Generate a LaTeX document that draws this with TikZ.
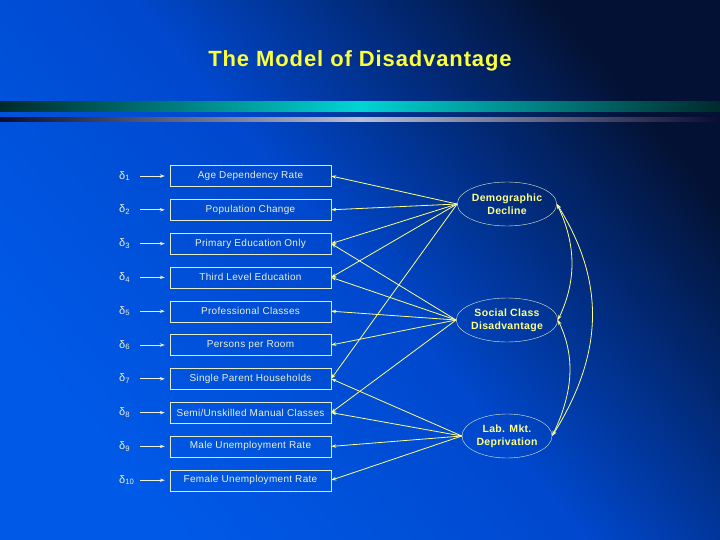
\documentclass[tikz,border=0pt]{standalone}
\usepackage{fontspec}
\setmainfont{Liberation Sans}
\newfontfamily\slidefont[LetterSpace=3]{Liberation Sans}
\newfontfamily\titlefont[LetterSpace=4]{Liberation Sans}
\usetikzlibrary{arrows.meta,shapes.geometric}
\definecolor{bgdark}{RGB}{3,18,52}
\definecolor{bgmid}{RGB}{0,72,205}
\definecolor{bgbright}{RGB}{0,90,232}
\definecolor{tealedge}{RGB}{0,42,44}
\definecolor{tealmid}{RGB}{0,212,212}
\definecolor{greyedge}{RGB}{10,12,50}
\definecolor{greymid}{RGB}{185,190,212}
\definecolor{titleyellow}{RGB}{255,255,60}
\definecolor{pathyellow}{RGB}{255,255,140}
\definecolor{boxline}{RGB}{225,235,200}
\definecolor{labeltext}{RGB}{235,240,215}

\begin{document}
\begin{tikzpicture}[x=1pt,y=-1pt,
  indicator/.style={draw=boxline,thin,minimum width=161pt,minimum height=21pt,
    inner sep=0pt,text=labeltext,font=\slidefont\fontsize{10}{11}\selectfont},
  factor/.style={ellipse,draw=boxline,thin,minimum width=90pt,minimum height=44pt,
    inner sep=0pt,align=center,text=pathyellow,
    font=\slidefont\bfseries\fontsize{10.5}{13}\selectfont},
  errlabel/.style={anchor=west,text width=14pt,align=left,inner sep=0pt,
    text=labeltext,font=\fontsize{11}{12}\selectfont},
  load/.style={draw=pathyellow,line width=0.8pt,-{Stealth[length=5pt,width=3.5pt]}},
  covar/.style={draw=pathyellow,line width=0.8pt,
    {Stealth[length=5pt,width=3.5pt]}-{Stealth[length=5pt,width=3.5pt]}}]
  \useasboundingbox (0,0) rectangle (720,540);

  % slide background and the two rules
  \shade[top color=bgdark,bottom color=bgbright,middle color=bgmid,shading angle=-50]
    (0,0) rectangle (720,540);
  \shade[left color=tealedge,right color=tealedge,middle color=tealmid]
    (0,102) rectangle (720,112);
  \shade[left color=greyedge,right color=greyedge,middle color=greymid]
    (0,118) rectangle (720,122);

  % title
  \node[text=titleyellow,font=\titlefont\bfseries\fontsize{22}{26}\selectfont]
    (title) at (360,61) {The Model of Disadvantage};

  % observed indicators with their error terms
  \foreach \i/\txt in {1/Age Dependency Rate,2/Population Change,
      3/Primary Education Only,4/Third Level Education,5/Professional Classes,
      6/Persons per Room,7/Single Parent Households,
      8/{Semi/Unskilled Manual Classes},9/Male Unemployment Rate,
      10/Female Unemployment Rate} {
    \node[indicator] (b\i) at (250.5,{176+33.8*(\i-1)}) {\txt};
    \node[errlabel] (d\i) at (119,{176+33.8*(\i-1)}) {δ\textsubscript{\i}};
    \draw[load,draw=labeltext,shorten <=7pt,shorten >=5pt] (d\i) -- (b\i);
  }

  % latent factors
  \node[factor] (dd) at (507,204) {Demographic\\Decline};
  \node[factor] (sc) at (507,320) {Social Class\\Disadvantage};
  \node[factor] (lm) at (507,436) {Lab. Mkt.\\Deprivation};

  % loadings
  \foreach \j in {1,2,3,4,7} \draw[load] (dd.west) -- (b\j.east);
  \foreach \j in {3,4,5,6,8} \draw[load] (sc.west) -- (b\j.east);
  \foreach \j in {7,8,9,10} \draw[load] (lm.west) -- (b\j.east);

  % correlations between factors
  \draw[covar] (dd.east) .. controls +(19,40) and +(19,-40) .. (sc.east);
  \draw[covar] (sc.east) .. controls +(19,40) and +(19,-40) .. (lm.east);
  \draw[covar] (dd.east) .. controls +(50,80) and +(50,-80) .. (lm.east);
\end{tikzpicture}
\end{document}
